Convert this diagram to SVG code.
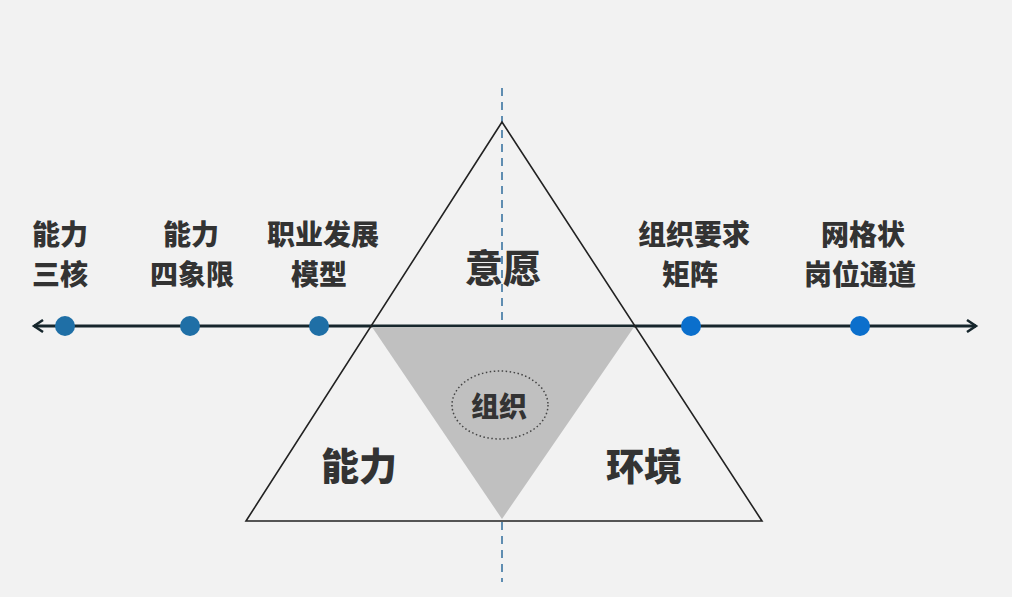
<svg xmlns="http://www.w3.org/2000/svg" width="1012" height="597" viewBox="0 0 1012 597">
<style>
.lbl{font-family:"Noto Sans CJK SC","Liberation Sans",sans-serif;font-weight:900;fill:#333;text-anchor:middle}
.s{font-size:28px}
.b{font-size:38px}
.m{font-size:28px}
.dotL{fill:#1f6fa6}
.dotR{fill:#0b6fcc}
</style>
<defs>
<marker id="arr" markerWidth="14" markerHeight="14" refX="11" refY="7" orient="auto-start-reverse" markerUnits="userSpaceOnUse">
<path d="M2,1 L11,7 L2,13" fill="none" stroke="#16262c" stroke-width="2.5"/>
</marker>
</defs>
<rect width="1012" height="597" fill="#f2f2f2"/>
<g id="connectors">
<line x1="502" y1="88" x2="502" y2="582" stroke="#2f6c9c" stroke-width="1.5" stroke-dasharray="8,6"/>
<line x1="34" y1="326" x2="976" y2="326" stroke="#16262c" stroke-width="3" marker-start="url(#arr)" marker-end="url(#arr)"/>
</g>
<g id="big-triangle">
<polygon points="502,122 246,521 762,521" fill="none" stroke="#222" stroke-width="1.6"/>
</g>
<g id="organization">
<polygon points="372,327 634,327 502,519" fill="#c0c0c0"/>
<ellipse cx="500" cy="405" rx="48" ry="34" fill="none" stroke="#444" stroke-width="1.5" stroke-dasharray="1.5,2.5"/>
<text class="lbl m" x="499" y="417">组织</text>
</g>
<g id="willingness"><text class="lbl b" x="503" y="282">意愿</text></g>
<g id="ability"><text class="lbl b" x="359" y="480">能力</text></g>
<g id="environment"><text class="lbl b" x="644" y="480">环境</text></g>
<g id="n1"><circle class="dotL" cx="65" cy="326" r="10"/><text class="lbl s" x="60" y="245">能力</text><text class="lbl s" x="60" y="285">三核</text></g>
<g id="n2"><circle class="dotL" cx="190" cy="326" r="10"/><text class="lbl s" x="191" y="245">能力</text><text class="lbl s" x="192" y="285">四象限</text></g>
<g id="n3"><circle class="dotL" cx="319" cy="326" r="10"/><text class="lbl s" x="323" y="245">职业发展</text><text class="lbl s" x="319" y="285">模型</text></g>
<g id="n4"><circle class="dotR" cx="691" cy="326" r="10"/><text class="lbl s" x="694" y="245">组织要求</text><text class="lbl s" x="690" y="285">矩阵</text></g>
<g id="n5"><circle class="dotR" cx="860" cy="326" r="10"/><text class="lbl s" x="863" y="245">网格状</text><text class="lbl s" x="860" y="285">岗位通道</text></g>
</svg>
